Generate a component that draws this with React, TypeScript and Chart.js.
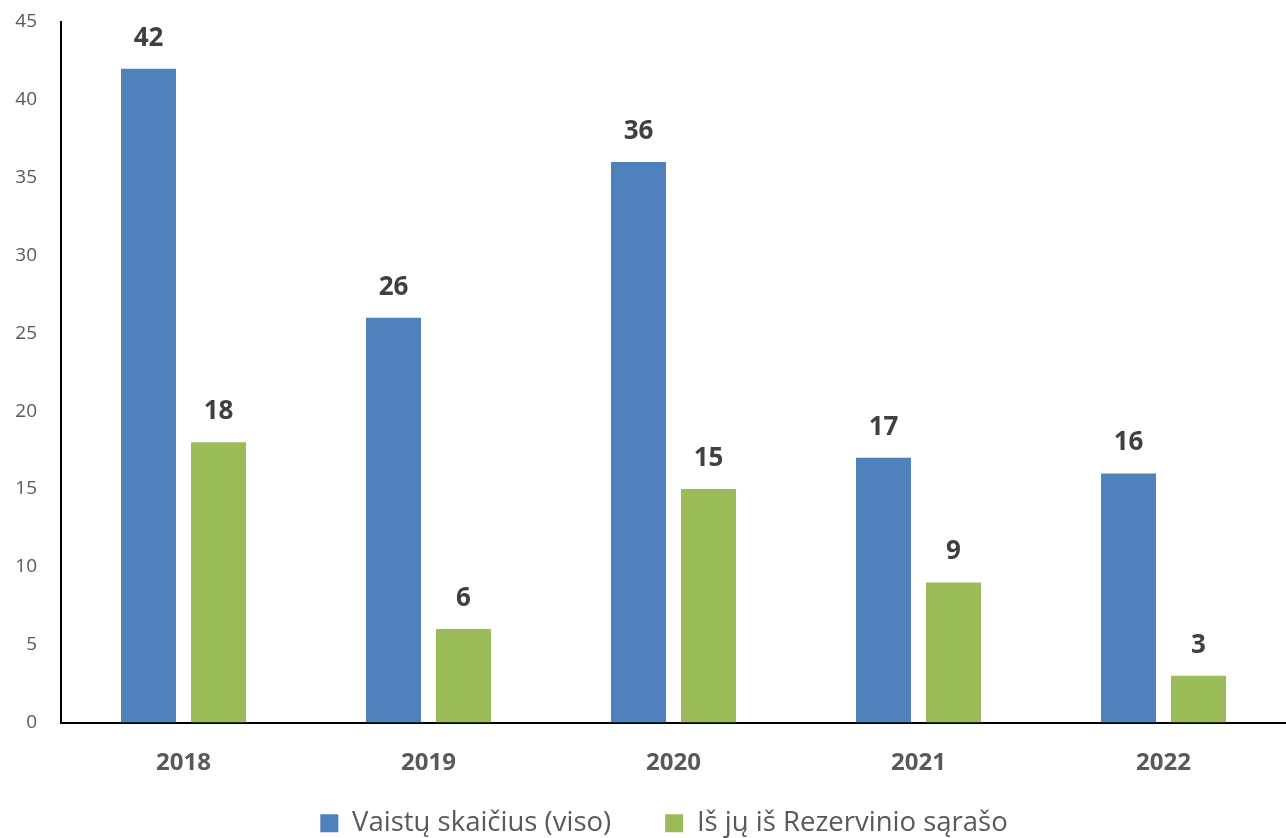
import React, { useEffect, useRef } from "react";
import { Chart, registerables } from "chart.js";

Chart.register(...registerables);

const categories = ["2018", "2019", "2020", "2021", "2022"];
const totalValues = [42, 26, 36, 17, 16];
const reserveValues = [18, 6, 15, 9, 3];
const seriesNames = ["Vaistų skaičius (viso)", "Iš jų iš Rezervinio sąrašo"];
const yTicks = [0, 5, 10, 15, 20, 25, 30, 35, 40, 45];

const FONT = "'Open Sans', sans-serif";
const CANVAS_H = 845;

const dataLabelPlugin = {
  id: "dataLabels",
  afterLayout(chart: any) {
    const lg = chart.legend;
    if (lg) {
      lg.left += 21;
      lg.right += 21;
      lg.top += 2;
      lg.bottom += 2;
    }
  },
  afterDatasetsDraw(chart: any) {
    const ctx = chart.ctx;
    ctx.save();
    ctx.font = `bold 26px ${FONT}`;
    ctx.fillStyle = "#404040";
    ctx.textAlign = "center";
    ctx.textBaseline = "alphabetic";
    chart.data.datasets.forEach((ds: any, i: number) => {
      const meta = chart.getDatasetMeta(i);
      meta.data.forEach((el: any, j: number) => {
        ctx.fillText(String(ds.data[j]), el.x, el.y - 23);
      });
    });
    ctx.restore();
  },
};

export default function App() {
  const ref = useRef<HTMLCanvasElement | null>(null);
  useEffect(() => {
    if (!ref.current) return;
    const chart = new Chart(ref.current, {
      type: "bar",
      data: {
        labels: categories,
        datasets: [
          {
            label: seriesNames[0],
            data: totalValues,
            backgroundColor: "#4F81BD",
            categoryPercentage: 0.5714,
            barPercentage: 0.7857,
          },
          {
            label: seriesNames[1],
            data: reserveValues,
            backgroundColor: "#9BBB59",
            categoryPercentage: 0.5714,
            barPercentage: 0.7857,
          },
        ],
      },
      options: {
        animation: false,
        responsive: false,
        maintainAspectRatio: false,
        layout: { padding: { top: 22, right: 0, bottom: 0, left: 0 } },
        plugins: {
          legend: {
            position: "bottom",
            labels: {
              boxWidth: 18,
              boxHeight: 18,
              padding: 54,
              color: "#595959",
              font: { family: FONT, size: 27.5 },
            },
          },
          tooltip: { enabled: false },
        },
        scales: {
          x: {
            grid: { display: false },
            border: { display: true, color: "#000000", width: 2 },
            ticks: {
              color: "#595959",
              font: { family: FONT, size: 24, weight: "bold" },
              padding: 18,
            },
            afterFit: (scale: any) => {
              scale._computeLabelArea = () => undefined;
              scale.height = 31;
            },
          },
          y: {
            min: 0,
            max: 45,
            afterBuildTicks: (scale: any) => {
              scale.ticks = yTicks.map((v) => ({ value: v }));
            },
            afterFit: (scale: any) => {
              scale.width = 61;
              scale.paddingTop = 0;
              scale.paddingBottom = 0;
            },
            grid: { display: false },
            border: { display: true, color: "#000000", width: 2 },
            ticks: {
              color: "#595959",
              font: { family: FONT, size: 19 },
              padding: 16,
            },
          },
        },
      },
      plugins: [dataLabelPlugin],
    });
    return () => chart.destroy();
  }, []);
  return (
    <div style={{ position: "fixed", left: 0, top: 0, width: 1286, height: 838, overflow: "hidden", background: "#fff" }}>
      <canvas ref={ref} width={1286} height={CANVAS_H} style={{ display: "block" }} />
    </div>
  );
}
